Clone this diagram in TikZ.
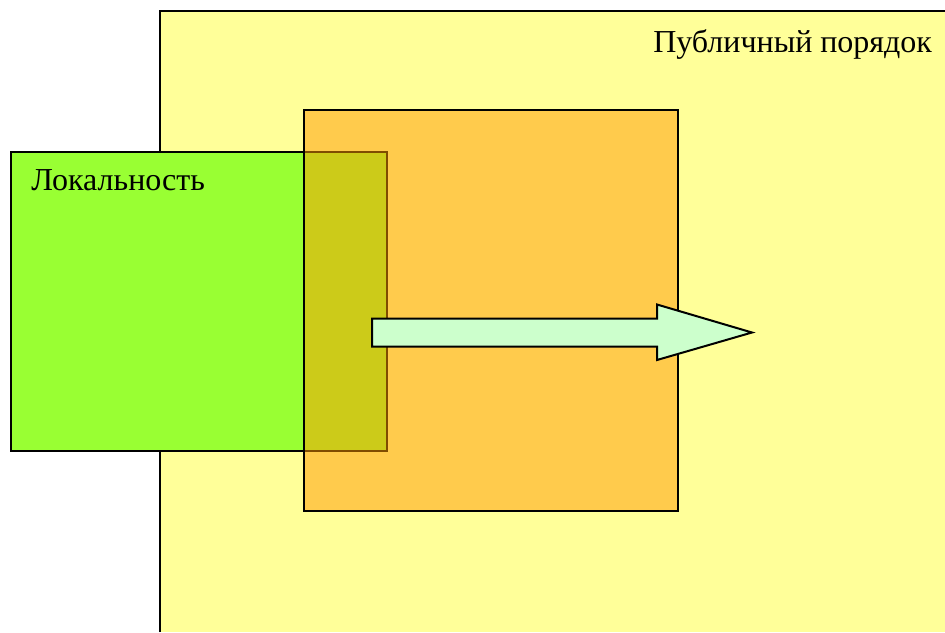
\documentclass[tikz,border=0pt]{standalone}
\usepackage{fontspec}
\setmainfont{Liberation Serif}
\definecolor{pubyellow}{RGB}{255,255,153}
\definecolor{locgreen}{RGB}{153,255,51}
\definecolor{midorange}{RGB}{255,153,0}
\definecolor{arrowgreen}{RGB}{204,255,204}
\begin{document}
\begin{tikzpicture}[x=0.75pt,y=-0.75pt,
  edge/.style={draw=black,line width=1.5pt},
  lbl/.style={anchor=base west,inner sep=0pt,font=\fontsize{24}{28}\selectfont}]
\useasboundingbox (0,0) rectangle (945,632);
% public order area (extends beyond picture)
\fill[pubyellow] (160,11) rectangle (945,632);
\coordinate (pbl) at (160,632);
\coordinate (ptl) at (160,11);
\coordinate (ptr) at (945,11);
\draw[edge] (pbl) -- (ptl) -- (ptr);
\node[lbl] (pub) at (653,52) {Публичный порядок};
% locality
\node[edge,fill=locgreen,minimum width=376*0.75pt,minimum height=299*0.75pt,inner sep=0pt,anchor=north west] (loc) at (10,151) {};
\node[lbl] (loctext) at (31,190.5) {Локальность};
% middle orange box
\node[edge,fill=midorange,fill opacity=0.5,draw opacity=1,minimum width=374*0.75pt,minimum height=401*0.75pt,inner sep=0pt,anchor=north west] (mid) at (303,109) {};
% arrow
\draw[edge,fill=arrowgreen,line join=miter] (372,318.5) -- (657,318.5) -- (657,304.5) -- (752,332.5) -- (657,360) -- (657,346.5) -- (372,346.5) -- cycle;
\end{tikzpicture}
\end{document}
